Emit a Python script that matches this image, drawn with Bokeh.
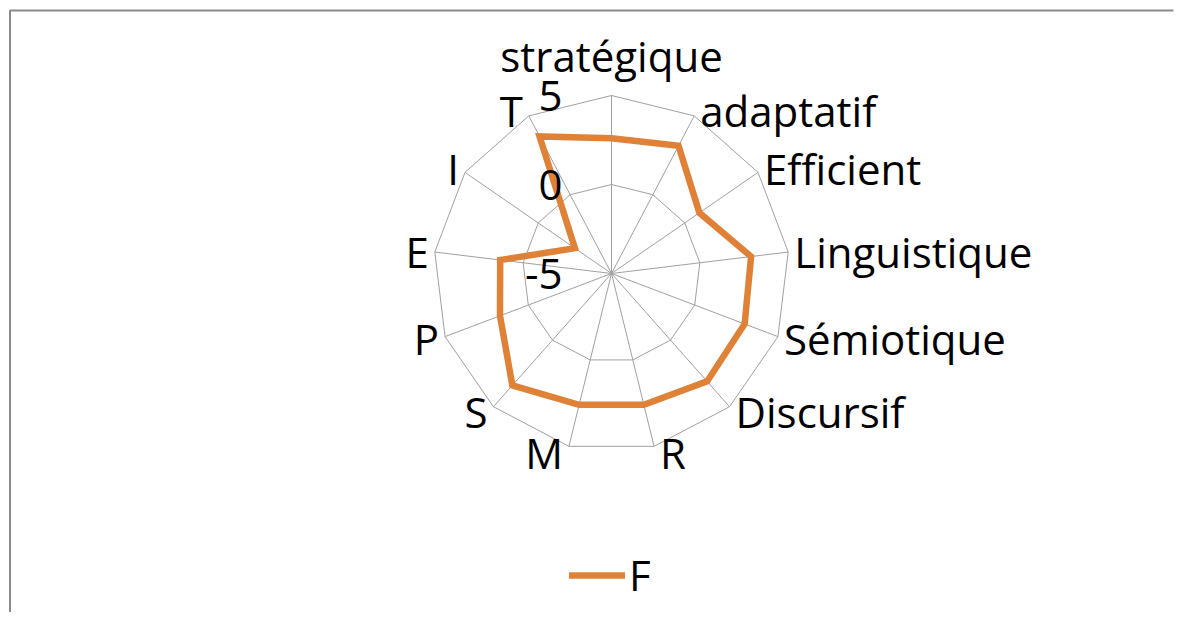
import numpy as np
from bokeh.plotting import figure
from bokeh.models import Range1d, ColumnDataSource, Legend, LegendItem
from bokeh.core.properties import value
from bokeh.embed import file_html
from bokeh.resources import INLINE

# ---- data ----
categories = ["stratégique", "adaptatif", "Efficient", "Linguistique", "Sémiotique",
              "Discursif", "R", "M", "S", "P", "E", "I", "T"]
series_F = [2.6, 3.1, 1.0, 2.9, 3.0, 3.1, 2.6, 2.6, 3.4, 1.7, 1.3, -2.5, 3.7]
ring_ticks = [-5, 0, 5]
tick_labels = ["-5", "0", "5"]
series_name = "F"

# ---- layout / style ----
W, H = 1174, 612
CX, CY = 611, 273          # centre of radar (pixels)
R = 178                    # outer radius in pixels
FONT = value("Open Sans")
FS = "42px"
ORANGE = "#DF8238"
GRID = "#A0A0A0"

p = figure(width=W, height=H, output_backend="svg", toolbar_location=None,
           x_range=Range1d(0, W), y_range=Range1d(H, 0),
           min_border=0, outline_line_color=None)
p.axis.visible = False
p.grid.visible = False
p.background_fill_color = "white"
p.border_fill_color = "white"

# chart area border (left & top visible)
p.line([9.5, 9.5, W - 1], [H + 50, 10, 10], line_color="#8A8A8A", line_width=2)

n = len(categories)
ang = np.pi / 2 - np.arange(n) * 2 * np.pi / n
vmin, vmax = min(ring_ticks), max(ring_ticks)


def rad(v):
    return (np.asarray(v, dtype=float) - vmin) / (vmax - vmin) * R


# rings
for t in ring_ticks:
    r = rad(t)
    if r <= 0:
        continue
    xs = CX + r * np.cos(ang)
    ys = CY - r * np.sin(ang)
    p.line(np.append(xs, xs[0]), np.append(ys, ys[0]), line_color=GRID, line_width=1)

# spokes
ox = CX + R * np.cos(ang)
oy = CY - R * np.sin(ang)
p.multi_line([[CX, x] for x in ox], [[CY, y] for y in oy], line_color=GRID, line_width=1)

# series
r = rad(series_F)
sx = CX + r * np.cos(ang)
sy = CY - r * np.sin(ang)
ren = p.line(np.append(sx, sx[0]), np.append(sy, sy[0]), line_color=ORANGE,
             line_width=6.5, line_join="miter", line_cap="round")

# category labels
lx, ly, al, bl = [], [], [], []
for a, x, y in zip(ang, ox, oy):
    c, s = np.cos(a), np.sin(a)
    if abs(c) < 0.05:
        lx.append(x); ly.append(y - 12 if s > 0 else y + 12)
        al.append("center"); bl.append("bottom" if s > 0 else "top")
    else:
        lx.append(x + 6 * np.sign(c)); ly.append(y - 6 * s)
        al.append("left" if c > 0 else "right"); bl.append("middle")
src = ColumnDataSource(dict(x=lx, y=ly, t=categories, a=al, b=bl))
p.text("x", "y", text="t", text_align="a", text_baseline="b", source=src,
       text_font=FONT, text_font_size=FS, text_color="black")

# value tick labels along the first axis
tx = [CX - 49] * len(ring_ticks)
ty = [CY - rad(t) for t in ring_ticks]
p.text(tx, ty, text=tick_labels, text_align="right", text_baseline="middle",
       text_font=FONT, text_font_size=FS, text_color="black")

# legend
leg = Legend(items=[LegendItem(label=series_name, renderers=[ren])],
             location=(569, 9), orientation="horizontal",
             border_line_color=None, background_fill_alpha=0,
             padding=0, margin=0, glyph_width=56, glyph_height=40,
             label_height=40, label_standoff=4,
             label_text_font="Open Sans", label_text_font_size=FS,
             label_text_color="black")
p.add_layout(leg, "center")

open("out.html", "w").write(file_html(p, INLINE))
